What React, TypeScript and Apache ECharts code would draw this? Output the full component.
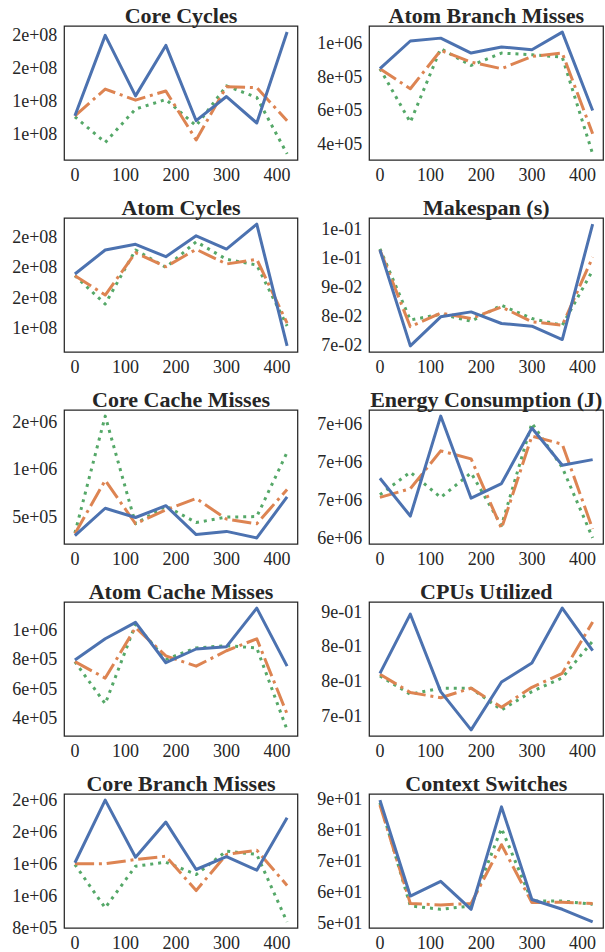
import React, { useEffect, useRef } from "react";
import * as echarts from "echarts";

const xValues = [0, 60, 120, 180, 240, 300, 360, 420];
const xTicks = [0, 100, 200, 300, 400];

const titles = [
  "Core Cycles",
  "Atom Branch Misses",
  "Atom Cycles",
  "Makespan (s)",
  "Core Cache Misses",
  "Energy Consumption (J)",
  "Atom Cache Misses",
  "CPUs Utilized",
  "Core Branch Misses",
  "Context Switches",
];

// Core Cycles
const coreCyclesBlue = [1.311e8, 1.8e8, 1.432e8, 1.739e8, 1.281e8, 1.428e8, 1.267e8, 1.82e8];
const coreCyclesOrange = [1.311e8, 1.473e8, 1.406e8, 1.462e8, 1.164e8, 1.488e8, 1.482e8, 1.281e8];
const coreCyclesGreen = [1.305e8, 1.149e8, 1.352e8, 1.41e8, 1.25e8, 1.493e8, 1.422e8, 1.079e8];
const coreCyclesTicks = [1.2e8, 1.4e8, 1.6e8, 1.8e8];

// Atom Branch Misses
const atomBranchBlue = [0.848e6, 1.013e6, 1.03e6, 0.941e6, 0.977e6, 0.961e6, 1.066e6, 0.599e6];
const atomBranchOrange = [0.848e6, 0.728e6, 0.957e6, 0.887e6, 0.848e6, 0.921e6, 0.941e6, 0.46e6];
const atomBranchGreen = [0.848e6, 0.529e6, 0.967e6, 0.867e6, 0.941e6, 0.931e6, 0.917e6, 0.34e6];
const atomBranchTicks = [4e5, 6e5, 8e5, 1e6];

// Atom Cycles
const atomCyclesBlue = [1.756e8, 1.914e8, 1.951e8, 1.87e8, 2.007e8, 1.92e8, 2.084e8, 1.284e8];
const atomCyclesOrange = [1.745e8, 1.618e8, 1.896e8, 1.804e8, 1.918e8, 1.822e8, 1.853e8, 1.433e8];
const atomCyclesGreen = [1.745e8, 1.559e8, 1.914e8, 1.8e8, 1.968e8, 1.853e8, 1.815e8, 1.415e8];
const atomCyclesTicks = [1.4e8, 1.6e8, 1.8e8, 2.0e8];

// Makespan (s)
const makespanBlue = [0.1027, 0.0697, 0.0797, 0.0814, 0.0774, 0.0765, 0.0719, 0.1116];
const makespanOrange = [0.1027, 0.0763, 0.081, 0.0791, 0.0831, 0.078, 0.0768, 0.1002];
const makespanGreen = [0.1031, 0.0786, 0.0806, 0.0782, 0.0837, 0.0791, 0.0768, 0.0957];
const makespanTicks = [0.07, 0.08, 0.09, 0.1, 0.11];

// Core Cache Misses
const coreCacheBlue = [0.298e6, 0.588e6, 0.49e6, 0.615e6, 0.309e6, 0.343e6, 0.274e6, 0.709e6];
const coreCacheOrange = [0.319e6, 0.884e6, 0.424e6, 0.57e6, 0.692e6, 0.473e6, 0.424e6, 0.787e6];
const coreCacheGreen = [0.326e6, 1.564e6, 0.424e6, 0.612e6, 0.437e6, 0.494e6, 0.5e6, 1.18e6];
const coreCacheTicks = [5e5, 1e6, 1.5e6];

// Energy Consumption (J)
const energyBlue = [6.714e6, 6.515e6, 7.041e6, 6.609e6, 6.686e6, 6.978e6, 6.782e6, 6.812e6];
const energyOrange = [6.613e6, 6.659e6, 6.858e6, 6.816e6, 6.45e6, 6.936e6, 6.893e6, 6.447e6];
const energyGreen = [6.627e6, 6.746e6, 6.613e6, 6.742e6, 6.465e6, 7.004e6, 6.77e6, 6.4e6];
const energyTicks = [6.4e6, 6.6e6, 6.8e6, 7.0e6];

// Atom Cache Misses
const atomCacheBlue = [0.793e6, 0.937e6, 1.048e6, 0.775e6, 0.868e6, 0.884e6, 1.145e6, 0.752e6];
const atomCacheOrange = [0.782e6, 0.671e6, 1.013e6, 0.821e6, 0.752e6, 0.856e6, 0.937e6, 0.428e6];
const atomCacheGreen = [0.782e6, 0.497e6, 1.034e6, 0.798e6, 0.875e6, 0.891e6, 0.875e6, 0.32e6];
const atomCacheTicks = [4e5, 6e5, 8e5, 1e6];

// CPUs Utilized
const cpusBlue = [0.789, 0.857, 0.768, 0.724, 0.779, 0.801, 0.864, 0.815];
const cpusOrange = [0.788, 0.767, 0.761, 0.772, 0.75, 0.773, 0.789, 0.848];
const cpusGreen = [0.786, 0.765, 0.772, 0.772, 0.747, 0.768, 0.784, 0.826];
const cpusTicks = [0.74, 0.78, 0.82, 0.86];

// Core Branch Misses
const coreBranchBlue = [1.26e6, 1.75e6, 1.303e6, 1.578e6, 1.207e6, 1.307e6, 1.202e6, 1.612e6];
const coreBranchOrange = [1.252e6, 1.252e6, 1.285e6, 1.311e6, 1.042e6, 1.325e6, 1.358e6, 1.082e6];
const coreBranchGreen = [1.246e6, 0.907e6, 1.233e6, 1.264e6, 1.168e6, 1.351e6, 1.325e6, 0.797e6];
const coreBranchTicks = [0.75e6, 1.0e6, 1.25e6, 1.5e6, 1.75e6];

// Context Switches
const contextBlue = [89.8, 58.6, 63.4, 54.3, 87.6, 57.5, 54.3, 50.2];
const contextOrange = [88.2, 56.2, 55.7, 56.2, 75.3, 56.5, 56.6, 56.2];
const contextGreen = [88.9, 55.4, 54.3, 55.4, 80.6, 57.0, 57.0, 55.9];
const contextTicks = [50, 60, 70, 80, 90];

const panels = [
  [coreCyclesBlue, coreCyclesOrange, coreCyclesGreen, coreCyclesTicks],
  [atomBranchBlue, atomBranchOrange, atomBranchGreen, atomBranchTicks],
  [atomCyclesBlue, atomCyclesOrange, atomCyclesGreen, atomCyclesTicks],
  [makespanBlue, makespanOrange, makespanGreen, makespanTicks],
  [coreCacheBlue, coreCacheOrange, coreCacheGreen, coreCacheTicks],
  [energyBlue, energyOrange, energyGreen, energyTicks],
  [atomCacheBlue, atomCacheOrange, atomCacheGreen, atomCacheTicks],
  [cpusBlue, cpusOrange, cpusGreen, cpusTicks],
  [coreBranchBlue, coreBranchOrange, coreBranchGreen, coreBranchTicks],
  [contextBlue, contextOrange, contextGreen, contextTicks],
];

const COLORS = ["#4C72B0", "#DD8452", "#55A868"];
const DASHES: any[] = ["solid", [19.2, 4.8, 3, 4.8], [3, 4.95]];
const TEXT = "#262626";
const FONT = "'Liberation Serif', 'Times New Roman', serif";

function fmtExp(v: number): string {
  const s = v.toExponential(0);
  const [m, e] = s.split("e");
  const sign = e[0];
  const d = e.slice(1).padStart(2, "0");
  return `${m}e${sign}${d}`;
}

const colLeft = [64.3, 369.3];
const colWidth = [233.4, 234];
const rowTop = [26, 218, 410, 602, 794];
const plotH = 134;

export default function App() {
  const ref = useRef<HTMLDivElement>(null);
  useEffect(() => {
    if (!ref.current) return;
    const chart = echarts.init(ref.current, null, { renderer: "svg" });
    const grid: any[] = [];
    const xAxis: any[] = [];
    const yAxis: any[] = [];
    const series: any[] = [];
    const graphic: any[] = [];
    panels.forEach((p, i) => {
      const col = i % 2;
      const row = Math.floor(i / 2);
      const left = colLeft[col];
      const top = rowTop[row];
      const w = colWidth[col];
      grid.push({
        left,
        top,
        width: w,
        height: plotH,
        show: true,
        borderColor: TEXT,
        borderWidth: 1.25,
        backgroundColor: "transparent",
        containLabel: false,
      });
      const all = [...(p[0] as number[]), ...(p[1] as number[]), ...(p[2] as number[])];
      const dmin = Math.min(...all);
      const dmax = Math.max(...all);
      const pad = (dmax - dmin) * 0.05;
      xAxis.push({
        type: "value",
        gridIndex: i,
        min: -21,
        max: 441,
        axisLine: { show: false },
        axisTick: { show: false },
        splitLine: { show: false },
        axisLabel: {
          customValues: xTicks,
          color: TEXT,
          fontFamily: FONT,
          fontSize: 18,
          margin: 6,
        },
      });
      yAxis.push({
        type: "value",
        gridIndex: i,
        min: dmin - pad,
        max: dmax + pad,
        scale: true,
        axisLine: { show: false },
        axisTick: { show: false },
        splitLine: { show: false },
        axisLabel: {
          customValues: p[3],
          color: TEXT,
          fontFamily: FONT,
          fontSize: 18,
          margin: 7,
          formatter: (v: number) => fmtExp(v),
        },
      });
      for (let s = 0; s < 3; s++) {
        const vals = p[s] as number[];
        series.push({
          type: "line",
          xAxisIndex: i,
          yAxisIndex: i,
          data: xValues.map((x, k) => [x, vals[k]]),
          showSymbol: false,
          symbol: "none",
          z: 3 - s,
          lineStyle: {
            color: COLORS[s],
            width: 3,
            type: DASHES[s],
            join: "round",
            cap: "butt",
          },
        });
      }
      graphic.push({
        type: "text",
        x: left + w / 2,
        y: top - 11,
        style: {
          text: titles[i],
          textAlign: "center",
          textVerticalAlign: "middle",
          font: `bold 22px ${FONT}`,
          fill: TEXT,
        },
      });
    });
    chart.setOption({
      animation: false,
      backgroundColor: "#ffffff",
      grid,
      xAxis,
      yAxis,
      series,
      graphic,
    });
    return () => chart.dispose();
  }, []);
  return (
    <div
      ref={ref}
      style={{ position: "fixed", left: 0, top: 0, width: 605, height: 952 }}
    />
  );
}
